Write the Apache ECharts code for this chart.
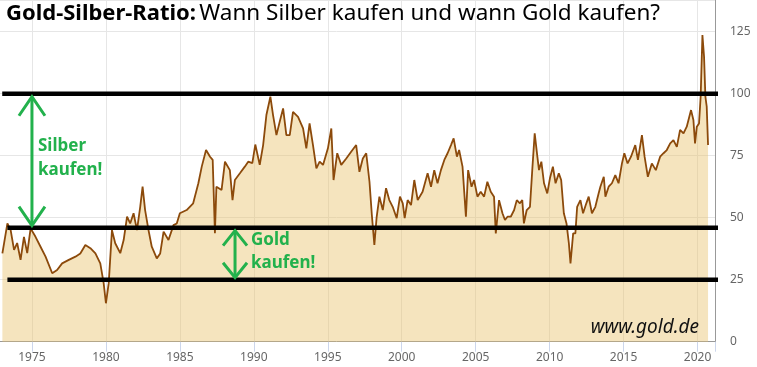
<!DOCTYPE html>
<html><head><meta charset="utf-8">
<script src="https://cdn.jsdelivr.net/npm/echarts@6/dist/echarts.min.js"></script>
<style>html,body{margin:0;padding:0;background:#fff;overflow:hidden}#c{position:absolute;left:-45px;top:0;width:802px;height:367px}</style>
</head><body><div id="c"></div>
<script>
// Gold-Silber-Ratio
const years = [
1973.0,1973.34,1973.56,1973.79,1974.0,1974.23,1974.46,1974.68,1974.91,1975.24,1975.58,1975.92,
1976.37,1976.7,1977.04,1977.49,1977.94,1978.27,1978.61,1978.95,1979.29,1979.62,1979.85,1980.0,
1980.19,1980.41,1980.63,1980.97,1981.2,1981.43,1981.64,1981.87,1982.1,1982.32,1982.48,1982.65,
1982.88,1983.1,1983.44,1983.67,1983.9,1984.23,1984.57,1984.79,1985.0,1985.46,1985.9,1986.25,
1986.48,1986.77,1987.04,1987.22,1987.37,1987.47,1987.82,1988.05,1988.38,1988.56,1988.72,1989.06,
1989.39,1989.62,1989.9,1990.1,1990.4,1990.63,1990.85,1991.12,1991.3,1991.53,1991.75,1991.98,
1992.2,1992.43,1992.65,1992.99,1993.33,1993.55,1993.77,1994.0,1994.23,1994.45,1994.68,1995.01,
1995.24,1995.39,1995.64,1995.91,1996.25,1996.58,1996.92,1997.14,1997.37,1997.6,1997.82,1997.98,
1998.15,1998.3,1998.49,1998.72,1998.94,1999.16,1999.39,1999.66,1999.88,2000.07,2000.2,2000.4,
2000.63,2000.85,2001.08,2001.41,2001.75,2001.98,2002.2,2002.42,2002.65,2002.88,2003.1,2003.33,
2003.51,2003.73,2003.88,2004.11,2004.34,2004.49,2004.72,2004.89,2005.12,2005.34,2005.57,2005.79,
2006.02,2006.24,2006.36,2006.58,2006.81,2006.98,2007.15,2007.37,2007.6,2007.78,2007.99,2008.15,
2008.26,2008.45,2008.67,2008.84,2008.99,2009.17,2009.28,2009.44,2009.62,2009.84,2010.02,2010.22,
2010.4,2010.62,2010.78,2010.96,2011.14,2011.3,2011.41,2011.59,2011.74,2011.86,2012.08,2012.26,
2012.48,2012.64,2012.86,2013.09,2013.31,2013.43,2013.66,2013.77,2013.99,2014.21,2014.44,2014.66,
2014.89,2015.05,2015.27,2015.5,2015.79,2015.97,2016.24,2016.42,2016.64,2016.91,2017.18,2017.47,
2017.7,2017.92,2018.15,2018.37,2018.6,2018.82,2019.05,2019.27,2019.56,2019.72,2019.83,2019.95,
2020.1,2020.21,2020.33,2020.44,2020.53,2020.62,2020.71
];
const ratio = [
35.6,47.7,45,37,39.8,33,42.3,35.7,45.7,42.3,38.3,34.3,
27.6,28.9,31.6,33,34.3,35.6,39,37.7,35.6,31.6,23.5,15.5,
23.6,45,39.7,35.7,41,50.4,47.7,51.8,45,54.4,62.5,53.1,
45,38.3,33.6,35.6,44.4,41,47,47.7,51.8,53.1,55.8,63.9,
70.6,77.3,74.6,73.3,43.7,62.5,61.2,72.6,69.2,57.1,65.2,67.9,
70.6,72.6,72,79.5,71.3,79.3,91.4,98.8,91.4,83.3,88.7,94.1,
83.3,83.3,92.7,90.7,86,78,88,79.3,69.9,72.6,71.3,78,
86,65.2,76,71.3,73.9,76.6,79.3,68.5,73.9,76,64.5,51.1,
39,50,58.5,53.1,61.9,57.1,54.4,49.8,58.5,55.8,49.8,57.1,
55.1,65.2,57.1,60.5,67.9,62.5,69.2,63.9,69.2,73.3,76,79.3,
82,74.6,77.3,70.6,50.4,69.2,62.5,65.2,58.5,60.5,58.5,64.5,
60.5,58.5,43.7,57.1,51.8,49.1,50.4,50.4,53.1,57.1,55.8,57.1,
47.7,53.1,54.4,70.6,84,74.6,69.2,72.6,63.9,59.8,65.9,70.6,
63.9,67.9,65.2,51.8,47.7,39.7,31.6,43.7,43.7,54.4,57.1,51.8,
55.8,58.5,51.8,54.4,59.8,62.5,66.5,58.5,62.5,63.9,67.2,63.9,
71.9,76,71.9,74.6,79.3,73.3,83.3,74.6,66.5,71.9,69.2,74.6,
76,77.3,80,81.3,78.6,85.4,84,86.7,93.4,89.4,80,86.7,
88,98.8,123.7,114.9,98.8,94.8,79.3
];
// Horizontal reference lines drawn on the picture
const refLevels = [100, 46, 25];
const refFrom = [1972.99, 1973.34, 1973.34];
const refTo = 2021.4;
// Arrow annotations: [year, fromValue, toValue]
const silberArrow = [1975, 100, 46];
const goldArrow = [1988.73, 46, 25];
const yTicks = [0, 25, 50, 75, 100, 125];

const OFF = 45; // the chart div starts 45px left of the window
const chart = echarts.init(document.getElementById('c'), null, {renderer: 'canvas'});
const FONT = 'Noto Sans';
const series = [{
  type: 'line', data: years.map((y, i) => [y, ratio[i]]), showSymbol: false, symbol: 'none',
  lineStyle: {color: '#8c4a0b', width: 1.8},
  areaStyle: {color: '#e8c36e', opacity: 0.45, origin: 'start'},
  z: 3, animation: false
}];
refLevels.forEach((lv, i) => series.push({
  type: 'line', data: [[refFrom[i], lv], [refTo, lv]], symbol: 'none', clip: false,
  lineStyle: {color: '#000', width: 4.5, cap: 'butt'}, z: 5, animation: false, silent: true
}));
chart.setOption({
  animation: false,
  grid: {left: 0.5, right: 42, top: 0, bottom: 25.3, containLabel: false},
  xAxis: {
    type: 'value', min: 1970, max: 2021.18, interval: 5,
    axisLine: {show: true, lineStyle: {color: '#999', width: 1}},
    axisTick: {show: true, length: 10, lineStyle: {color: '#ccd6eb'}},
    axisLabel: {color: '#666', fontFamily: FONT, fontSize: 12, margin: 10,
      formatter: v => (Math.abs(v % 5) < 1e-6 && v > 1971) ? String(v) : ''},
    splitLine: {show: true, lineStyle: {color: '#e6e6e6', width: 1}}
  },
  yAxis: {
    type: 'value', position: 'right', min: 0, max: 137.8, interval: 25,
    axisLine: {show: true, lineStyle: {color: '#999', width: 1}},
    axisTick: {show: false},
    axisLabel: {color: '#666', fontFamily: FONT, fontSize: 12, margin: 15,
      formatter: v => yTicks.indexOf(v) >= 0 ? String(v) : ''},
    splitLine: {show: true, lineStyle: {color: '#e6e6e6', width: 1}}
  },
  series: series
});

function arrow(a, off1, off2, hw, hh) {
  const p1 = chart.convertToPixel({xAxisIndex: 0, yAxisIndex: 0}, [a[0], a[1]]);
  const p2 = chart.convertToPixel({xAxisIndex: 0, yAxisIndex: 0}, [a[0], a[2]]);
  const x = p1[0], yT = p1[1] + off1, yB = p2[1] - off2;
  const st = {stroke: '#22b14c', lineWidth: 3, fill: null};
  return [
    {type: 'line', shape: {x1: x, y1: yT, x2: x, y2: yB}, style: st, z: 10},
    {type: 'polyline', shape: {points: [[x - hw, yT + hh], [x, yT], [x + hw, yT + hh]]}, style: st, z: 10},
    {type: 'polyline', shape: {points: [[x - hw, yB - hh], [x, yB], [x + hw, yB - hh]]}, style: st, z: 10}
  ];
}
const green = '#22b14c';
chart.setOption({
  graphic: [
    {type: 'text', left: OFF + 6, top: 2, z: 20, style: {
      text: '{b|Gold-Silber-Ratio:} {n|Wann Silber kaufen und wann Gold kaufen?}',
      rich: {b: {fontFamily: FONT, fontWeight: 'bold', fontSize: 22, fill: '#000'},
             n: {fontFamily: FONT, fontSize: 22.5, fill: '#000'}}}},
    ...arrow(silberArrow, 3, 2, 13, 19),
    ...arrow(goldArrow, 3, 2, 12, 15),
    {type: 'text', left: OFF + 38, top: 134, z: 20, style: {text: 'Silber\nkaufen!', fontFamily: FONT,
      fontWeight: 'bold', fontSize: 17, lineHeight: 24, fill: green}},
    {type: 'text', left: OFF + 251, top: 229, z: 20, style: {text: 'Gold\nkaufen!', fontFamily: FONT,
      fontWeight: 'bold', fontSize: 17, lineHeight: 23, fill: green}},
    {type: 'text', right: 58, top: 318, z: 20, style: {text: 'www.gold.de', fontFamily: FONT,
      fontStyle: 'italic', fontSize: 19, fill: '#111'}}
  ]
});
</script></body></html>
